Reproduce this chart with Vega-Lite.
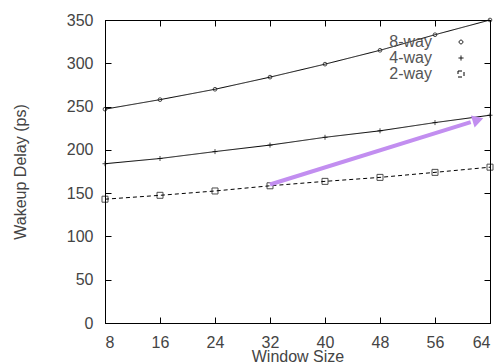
{
  "$schema": "https://vega.github.io/schema/vega-lite/v6.json",
  "width": 385,
  "height": 303,
  "autosize": {"type": "none"},
  "padding": {"left": 105, "top": 20, "right": 9, "bottom": 41},
  "background": "white",
  "config": {
    "view": {"stroke": "black", "strokeWidth": 1},
    "font": "Liberation Sans",
    "axis": {
      "grid": false,
      "domainColor": "black",
      "tickColor": "black",
      "tickSize": -6,
      "labelColor": "#444",
      "labelFont": "Liberation Sans",
      "labelFontSize": 16,
      "titleColor": "#444",
      "titleFont": "Liberation Sans",
      "titleFontSize": 16,
      "titleFontWeight": "normal"
    }
  },
  "datasets": {
    "series": [
      {"size": 8, "delay": 247, "way": "8-way"},
      {"size": 16, "delay": 258, "way": "8-way"},
      {"size": 24, "delay": 270, "way": "8-way"},
      {"size": 32, "delay": 284, "way": "8-way"},
      {"size": 40, "delay": 299, "way": "8-way"},
      {"size": 48, "delay": 315, "way": "8-way"},
      {"size": 56, "delay": 333, "way": "8-way"},
      {"size": 64, "delay": 350, "way": "8-way"},
      {"size": 8, "delay": 184, "way": "4-way"},
      {"size": 16, "delay": 190, "way": "4-way"},
      {"size": 24, "delay": 198, "way": "4-way"},
      {"size": 32, "delay": 205.5, "way": "4-way"},
      {"size": 40, "delay": 214.5, "way": "4-way"},
      {"size": 48, "delay": 222, "way": "4-way"},
      {"size": 56, "delay": 231.5, "way": "4-way"},
      {"size": 64, "delay": 240, "way": "4-way"},
      {"size": 8, "delay": 143, "way": "2-way"},
      {"size": 16, "delay": 147.5, "way": "2-way"},
      {"size": 24, "delay": 152.5, "way": "2-way"},
      {"size": 32, "delay": 158.5, "way": "2-way"},
      {"size": 40, "delay": 163.6, "way": "2-way"},
      {"size": 48, "delay": 168.2, "way": "2-way"},
      {"size": 56, "delay": 174, "way": "2-way"},
      {"size": 64, "delay": 180, "way": "2-way"}
    ],
    "arrow": [
      {"x1": 32, "y1": 160, "x2": 61.2, "y2": 232}
    ],
    "head": [
      {"x": 62, "y": 234}
    ]
  },
  "layer": [
    {
      "layer": [
        {
          "data": {"name": "series"},
          "mark": {"type": "line", "color": "black", "strokeWidth": 1},
          "encoding": {
            "x": {
              "field": "size", "type": "quantitative",
              "scale": {"domain": [8, 64], "nice": false, "zero": false},
              "axis": {"values": [8, 16, 24, 32, 40, 48, 56, 64], "title": "Window Size", "labelPadding": 17, "titlePadding": -2}
            },
            "y": {
              "field": "delay", "type": "quantitative",
              "scale": {"domain": [0, 350], "nice": false},
              "axis": {"values": [0, 50, 100, 150, 200, 250, 300, 350], "title": "Wakeup Delay (ps)", "labelPadding": 18, "titlePadding": 38}
            },
            "strokeDash": {
              "field": "way", "type": "nominal",
              "scale": {"domain": ["8-way", "4-way", "2-way"], "range": [[1, 0], [1, 0], [4, 3]]},
              "legend": {
                "title": null,
                "orient": "none",
                "legendX": 348,
                "legendY": 14,
                "symbolType": "stroke",
                "symbolSize": 1000,
                "symbolStrokeColor": "black",
                "symbolStrokeWidth": 1,
                "labelAlign": "right",
                "labelOffset": -37,
                "labelFont": "Liberation Sans",
                "labelFontSize": 16,
                "labelColor": "#555",
                "rowPadding": 0,
                "labelLimit": 0
              }
            }
          }
        },
        {
          "data": {"name": "series"},
          "mark": {"type": "point", "color": "black", "strokeWidth": 1, "filled": false},
          "encoding": {
            "x": {"field": "size", "type": "quantitative"},
            "y": {"field": "delay", "type": "quantitative"},
            "shape": {
              "field": "way", "type": "nominal",
              "scale": {"domain": ["8-way", "4-way", "2-way"], "range": ["circle", "M-1,0L1,0M0,-1L0,1", "square"]},
              "legend": null
            },
            "size": {
              "field": "way", "type": "nominal",
              "scale": {"domain": ["8-way", "4-way", "2-way"], "range": [14, 36, 30]},
              "legend": null
            }
          }
        },
        {
          "data": {"name": "arrow"},
          "mark": {"type": "rule", "color": "#c28ef0", "strokeWidth": 4},
          "encoding": {
            "x": {"field": "x1", "type": "quantitative"},
            "y": {"field": "y1", "type": "quantitative"},
            "x2": {"field": "x2"},
            "y2": {"field": "y2"}
          }
        },
        {
          "data": {"name": "head"},
          "mark": {"type": "point", "shape": "triangle", "filled": true, "color": "#c28ef0", "opacity": 1, "size": 160, "angle": 73},
          "encoding": {
            "x": {"field": "x", "type": "quantitative"},
            "y": {"field": "y", "type": "quantitative"}
          }
        }
      ]
    },
    {
      "data": {"name": "series"},
      "mark": {"type": "point", "opacity": 0},
      "encoding": {
        "x": {"field": "size", "type": "quantitative", "axis": {"orient": "top", "values": [8, 16, 24, 32, 40, 48, 56, 64], "labels": false, "title": null}},
        "y": {"field": "delay", "type": "quantitative", "axis": {"orient": "right", "values": [0, 50, 100, 150, 200, 250, 300, 350], "labels": false, "title": null}}
      }
    }
  ],
  "resolve": {"axis": {"x": "independent", "y": "independent"}}
}
